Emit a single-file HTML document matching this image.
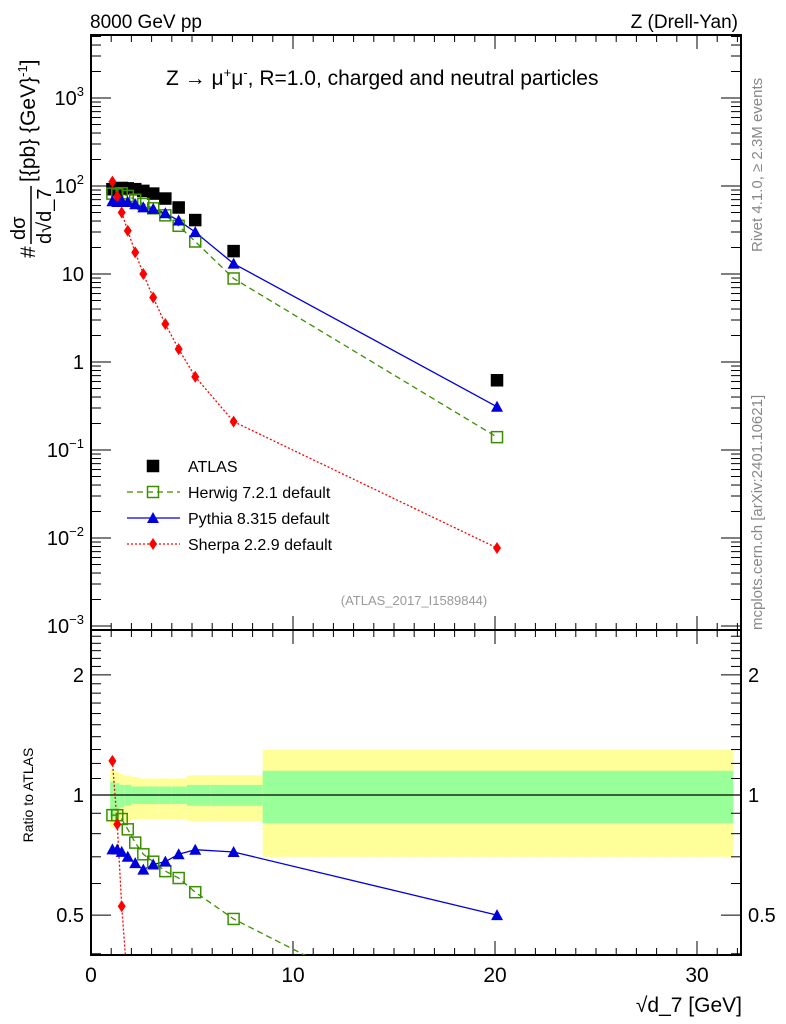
<!DOCTYPE html>
<html><head><meta charset="utf-8"><style>
html,body{margin:0;background:#fff;width:786px;height:1024px;overflow:hidden;}
svg{display:block;font-family:"Liberation Sans",sans-serif;}
</style></head><body>
<svg id="c" width="786" height="1024" xmlns="http://www.w3.org/2000/svg">
<text x="90" y="28" font-size="19">8000 GeV pp</text>
<text x="738" y="28" font-size="19" text-anchor="end">Z (Drell-Yan)</text>
<text x="166" y="85" font-size="21">Z → μ<tspan font-size="13" dy="-8">+</tspan><tspan dy="8">μ</tspan><tspan font-size="13" dy="-8">-</tspan><tspan dy="8">, R=1.0, charged and neutral particles</tspan></text>
<text transform="translate(762,252) rotate(-90)" font-size="15" fill="#888">Rivet 4.1.0, ≥ 2.3M events</text>
<text transform="translate(762,630) rotate(-90)" font-size="15" fill="#888">mcplots.cern.ch [arXiv:2401.10621]</text>
<text x="414" y="605" font-size="13" fill="#999" text-anchor="middle">(ATLAS_2017_I1589844)</text>
<g transform="translate(35,258) rotate(-90)">
<text x="0" y="0" font-size="21">#</text>
<text x="18" y="-10" font-size="20">dσ</text>
<line x1="14" y1="-4" x2="72" y2="-4" stroke="#000" stroke-width="1.5"/>
<text x="14" y="16" font-size="20">d√d_7</text>
<text x="76" y="0" font-size="21">[{pb} {GeV}<tspan font-size="13" dy="-8">-1</tspan><tspan dy="8">]</tspan></text>
</g>
<text x="28" y="795" font-size="14" transform="rotate(-90 28 795)" text-anchor="middle" dy="5">Ratio to ATLAS</text>
<text x="742" y="1012" font-size="21" text-anchor="end">√d_7 [GeV]</text>
<g id="g"></g>
</svg>
<script>
const xs=[1.06,1.3,1.52,1.82,2.19,2.59,3.08,3.68,4.34,5.16,7.06,20.1];
const atlas=[92,90,95,94,92,88,82,72,57,41,18.2,0.62];
const herwig=[81.9,80.1,82.7,77.1,69.9,62.5,55.8,46.4,35.3,23.4,8.9,0.14];
const pythia=[67.2,65.7,68.4,65.8,62.1,57.2,54.9,49.0,40.5,29.9,13.1,0.31];
const sherpa=[112,76,50,31,17.6,10,5.4,2.7,1.4,0.68,0.21,0.0077];
const binEdges=[0.95,1.2,1.4,1.65,2.0,2.4,2.8,3.35,4.0,4.75,5.9,8.5,31.8];
const yelUp=[1.16,1.14,1.13,1.12,1.11,1.10,1.10,1.10,1.10,1.12,1.12,1.30];
const yelDn=[0.83,0.85,0.86,0.86,0.87,0.87,0.87,0.87,0.87,0.86,0.86,0.70];
const grnUp=[1.08,1.07,1.06,1.06,1.05,1.05,1.05,1.05,1.05,1.06,1.06,1.15];
const grnDn=[0.88,0.91,0.93,0.94,0.95,0.95,0.95,0.95,0.95,0.94,0.94,0.85];
const xTicks=[0,10,20,30];
const yDecades=[-3,-2,-1,0,1,2,3];
const rTicks=[0.5,1,2];

const L=91,R=741,T=35,MB=630,RB=955;
const X=v=>L+v*20.2;
const Y=v=>362-88*Math.log10(v);
const RY=v=>795-399*Math.log10(v);
const g=document.getElementById('g');
const NS='http://www.w3.org/2000/svg';
function el(t,a,p){const e=document.createElementNS(NS,t);for(const k in a)e.setAttribute(k,a[k]);(p||g).appendChild(e);return e;}
const rc=el('clipPath',{id:'rc'});el('rect',{x:L,y:MB,width:R-L,height:RB-MB},rc);
const mc=el('clipPath',{id:'mc'});el('rect',{x:L,y:T,width:R-L,height:MB-T},mc);
for(let i=0;i<yelUp.length;i++){
 const x0=X(binEdges[i]),x1=X(binEdges[i+1]);
 let r=el('rect',{x:x0,y:RY(yelUp[i]),width:x1-x0,height:RY(yelDn[i])-RY(yelUp[i]),fill:'#ffff99'});
 
 r=el('rect',{x:x0,y:RY(grnUp[i]),width:x1-x0,height:RY(grnDn[i])-RY(grnUp[i]),fill:'#99ff99'});
 
}
el('line',{x1:L,x2:R,y1:RY(1),y2:RY(1),stroke:'#000','stroke-width':1.2});
el('rect',{x:L,y:T,width:R-L,height:MB-T,fill:'none',stroke:'#000','stroke-width':2});
el('rect',{x:L,y:MB,width:R-L,height:RB-MB,fill:'none',stroke:'#000','stroke-width':2});
for(let v=0;v<=32;v++){
 const maj=v%10==0,len=maj?14:7,x=X(v);
 if(x>R)break;
 [[T,1],[MB,-1],[MB,1],[RB,-1]].forEach(([y,d])=>el('line',{x1:x,x2:x,y1:y,y2:y+d*len,stroke:'#000'}));
}
xTicks.forEach(v=>{const t=el('text',{x:X(v),y:982,'font-size':21,'text-anchor':'middle'});t.textContent=v;
});
for(let d=-4;d<=3;d++)for(let m=1;m<10;m++){
 const v=m*Math.pow(10,d),y=Y(v);if(y<T||y>MB)continue;
 const len=m==1?20:10;
 el('line',{x1:L,x2:L+len,y1:y,y2:y,stroke:'#000'});el('line',{x1:R,x2:R-len,y1:y,y2:y,stroke:'#000'});
}
yDecades.forEach(d=>{const y=Y(Math.pow(10,d));let t;
 if(d==0||d==1){t=el('text',{x:84,y:y+7,'font-size':20,'text-anchor':'end'});t.textContent=d==0?'1':'10';}
 else{t=el('text',{x:84,y:y+7,'font-size':20,'text-anchor':'end'});
  const a=el('tspan',{},t);a.textContent='10';const b=el('tspan',{'font-size':13,dy:-9},t);b.textContent=String(d).replace('-','−');}
 });
for(let v=0.4;v<=2.6;v+=0.1){const y=RY(v);if(y<MB||y>RB)continue;
 const maj=Math.abs(v-0.5)<1e-6||Math.abs(v-1)<1e-6||Math.abs(v-2)<1e-6;const len=maj?20:10;
 el('line',{x1:L,x2:L+len,y1:y,y2:y,stroke:'#000'});el('line',{x1:R,x2:R-len,y1:y,y2:y,stroke:'#000'});}
rTicks.forEach(v=>{[[84,'end'],[748,'start']].forEach(([x,a])=>{const t=el('text',{x:x,y:RY(v)+7,'font-size':20,'text-anchor':a});t.textContent=v;
});});
function sq(x,y,col,fill,s,p){return el('rect',{x:x-s/2,y:y-s/2,width:s,height:s,fill:fill?col:'#fff','fill-opacity':fill?1:0,stroke:col,'stroke-width':1.5},p);}
function tri(x,y,col,p){return el('polygon',{points:`${x-6},${y+5} ${x+6},${y+5} ${x},${y-6}`,fill:col},p);}
function dia(x,y,col,p){return el('polygon',{points:`${x},${y-6} ${x+4},${y} ${x},${y+6} ${x-4},${y}`,fill:col},p);}
const series=[
 {d:herwig,col:'#3a8f00',dash:'6,4',m:'sq',name:'herwig'},
 {d:pythia,col:'#0000dd',dash:'',m:'tri',name:'pythia'},
 {d:sherpa,col:'#ff0000',dash:'2,2',m:'dia',name:'sherpa'}];
const gm=el('g',{'clip-path':'url(#mc)'});const gr=el('g',{'clip-path':'url(#rc)'});
series.forEach(s=>{
 let p=el('polyline',{points:xs.map((x,i)=>X(x)+','+Y(s.d[i])).join(' '),fill:'none',stroke:s.col,'stroke-width':1.3,'stroke-dasharray':s.dash},gm);
 
 p=el('polyline',{points:xs.map((x,i)=>X(x)+','+RY(s.d[i]/atlas[i])).join(' '),fill:'none',stroke:s.col,'stroke-width':1.3,'stroke-dasharray':s.dash},gr);
 
});
xs.forEach((x,i)=>{const m=sq(X(x),Y(atlas[i]),'#000',true,11,gm);
 });
series.forEach(s=>{xs.forEach((x,i)=>{
 [[Y(s.d[i]),gm],[RY(s.d[i]/atlas[i]),gr]].forEach(([y,p])=>{let m;
  if(s.m=='sq')m=sq(X(x),y,s.col,false,11,p);else if(s.m=='tri')m=tri(X(x),y,s.col,p);else m=dia(X(x),y,s.col,p);
  });
});});
const lg=el('g',{});
const items=[['ATLAS',null],['Herwig 7.2.1 default',series[0]],['Pythia 8.315 default',series[1]],['Sherpa 2.2.9 default',series[2]]];
items.forEach(([lab,s],k)=>{const y=466+k*26;
 if(!s)sq(153,y,'#000',true,11,lg);else{
  el('line',{x1:127,x2:180,y1:y,y2:y,stroke:s.col,'stroke-width':1.3,'stroke-dasharray':s.dash},lg);
  if(s.m=='sq')sq(153,y,s.col,false,11,lg);else if(s.m=='tri')tri(153,y,s.col,lg);else dia(153,y,s.col,lg);}
 const t=el('text',{x:188,y:y+6,'font-size':16},lg);t.textContent=lab;
 });
</script>
</body></html>
